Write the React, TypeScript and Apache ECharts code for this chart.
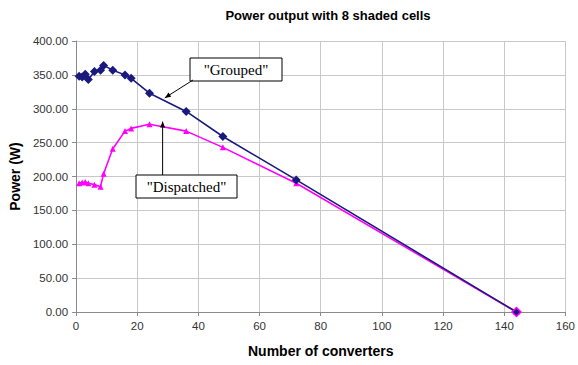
import React, { useEffect, useRef } from "react";
import * as echarts from "echarts";

// Number of converters sharing the 144-cell string
const converters = [1, 2, 3, 4, 6, 8, 9, 12, 16, 18, 24, 36, 48, 72, 144];
// Power output (W) with cells grouped per converter
const groupedPower = [348, 347, 351, 343, 355, 357, 364, 357, 350, 345, 323, 296, 259, 195, 0];
// Power output (W) with cells dispatched across converters
const dispatchedPower = [190, 191, 192, 190, 188, 185, 204, 241, 267, 271, 277, 267, 243, 190, 0];

const chartTitle = "Power output with 8 shaded cells";
const xTitle = "Number of converters";
const yTitle = "Power (W)";
const groupedLabel = '"Grouped"';
const dispatchedLabel = '"Dispatched"';

const sans = "'Liberation Sans', Arial, sans-serif";
const serif = "'Liberation Serif', 'Times New Roman', serif";

export default function App() {
  const ref = useRef<HTMLDivElement>(null);

  useEffect(() => {
    document.body.style.margin = "0";
    if (!ref.current) return;
    const chart = echarts.init(ref.current, null, { renderer: "svg" });
    const gridLeft = 76;
    const gridRight = 10;
    const plotCenter = gridLeft + (578 - gridLeft - gridRight) / 2;
    const lastIdx = converters.length - 1;

    chart.setOption({
      animation: false,
      backgroundColor: "#ffffff",
      title: {
        text: chartTitle,
        left: plotCenter + 1,
        top: 4,
        textAlign: "center",
        textStyle: { fontFamily: sans, fontSize: 13, fontWeight: "bold", color: "#000" },
      },
      grid: { left: gridLeft, right: gridRight, top: 41, bottom: 53 },
      xAxis: {
        type: "value",
        min: 0,
        max: 160,
        interval: 20,
        name: xTitle,
        nameLocation: "middle",
        nameGap: 32,
        nameTextStyle: { fontFamily: sans, fontSize: 14, fontWeight: "bold", color: "#000" },
        axisLine: { show: true, lineStyle: { color: "#8a8a8a", width: 1 } },
        axisTick: { show: true, length: 4, lineStyle: { color: "#8a8a8a" } },
        axisLabel: { fontFamily: sans, fontSize: 11.5, color: "#333", margin: 8 },
        splitLine: { show: true, lineStyle: { color: "#c8c8c8", width: 1 } },
      },
      yAxis: {
        type: "value",
        min: 0,
        max: 400,
        interval: 50,
        name: yTitle,
        nameLocation: "middle",
        nameGap: 47,
        nameTextStyle: { fontFamily: sans, fontSize: 14, fontWeight: "bold", color: "#000" },
        axisLine: { show: true, lineStyle: { color: "#8a8a8a", width: 1 } },
        axisTick: { show: true, length: 4, lineStyle: { color: "#8a8a8a" } },
        axisLabel: {
          fontFamily: sans,
          fontSize: 11.5,
          color: "#333",
          margin: 8,
          formatter: (v: number) => v.toFixed(2),
        },
        splitLine: { show: true, lineStyle: { color: "#c8c8c8", width: 1 } },
      },
      series: [
        {
          name: "Grouped",
          type: "line",
          data: converters.map((c, i) =>
            i === lastIdx
              ? { value: [c, groupedPower[i]], itemStyle: { borderColor: "#ff00ff", borderWidth: 1.5 } }
              : [c, groupedPower[i]]
          ),
          symbol: "diamond",
          symbolSize: 9,
          lineStyle: { color: "#1a1a7e", width: 1.6 },
          itemStyle: { color: "#1a1a7e" },
          z: 3,
        },
        {
          name: "Dispatched",
          type: "line",
          data: converters.map((c, i) => [c, dispatchedPower[i]]),
          symbol: "triangle",
          symbolSize: 6,
          lineStyle: { color: "#ff00ff", width: 1.6 },
          itemStyle: { color: "#ff00ff" },
          z: 2,
        },
      ],
    });

    // Callout boxes with arrows pointing at each curve
    const gTip = chart.convertToPixel({ gridIndex: 0 }, [29, 316]) as number[];
    const dTip = chart.convertToPixel({ gridIndex: 0 }, [28.3, 281]) as number[];

    const arrowHead = (from: number[], to: number[]) => {
      const ang = Math.atan2(to[1] - from[1], to[0] - from[0]);
      const len = 6;
      const half = 2.5;
      const bx = to[0] - len * Math.cos(ang);
      const by = to[1] - len * Math.sin(ang);
      const nx = -Math.sin(ang) * half;
      const ny = Math.cos(ang) * half;
      return {
        type: "polygon",
        shape: { points: [to, [bx + nx, by + ny], [bx - nx, by - ny]] },
        style: { fill: "#000" },
        z: 10,
      };
    };

    const gFrom = [193, 80];
    const dFrom = [dTip[0], 175];

    chart.setOption({
      graphic: [
        {
          type: "rect",
          shape: { x: 190, y: 58, width: 92, height: 23 },
          style: { fill: "#fff", stroke: "#000", lineWidth: 1 },
          z: 10,
        },
        {
          type: "text",
          x: 236,
          y: 69.5,
          style: {
            text: groupedLabel,
            fontFamily: serif,
            fontSize: 15,
            fill: "#000",
            align: "center",
            verticalAlign: "middle",
          },
          z: 11,
        },
        {
          type: "line",
          shape: { x1: gFrom[0], y1: gFrom[1], x2: gTip[0], y2: gTip[1] },
          style: { stroke: "#000", lineWidth: 1 },
          z: 10,
        },
        arrowHead(gFrom, gTip),
        {
          type: "rect",
          shape: { x: 136, y: 175, width: 101, height: 23 },
          style: { fill: "#fff", stroke: "#000", lineWidth: 1 },
          z: 10,
        },
        {
          type: "text",
          x: 186.5,
          y: 186.5,
          style: {
            text: dispatchedLabel,
            fontFamily: serif,
            fontSize: 15,
            fill: "#000",
            align: "center",
            verticalAlign: "middle",
          },
          z: 11,
        },
        {
          type: "line",
          shape: { x1: dFrom[0], y1: dFrom[1], x2: dTip[0], y2: dTip[1] },
          style: { stroke: "#000", lineWidth: 1 },
          z: 10,
        },
        arrowHead(dFrom, dTip),
      ],
    });

    return () => chart.dispose();
  }, []);

  return <div ref={ref} style={{ width: 578, height: 365 }} />;
}
